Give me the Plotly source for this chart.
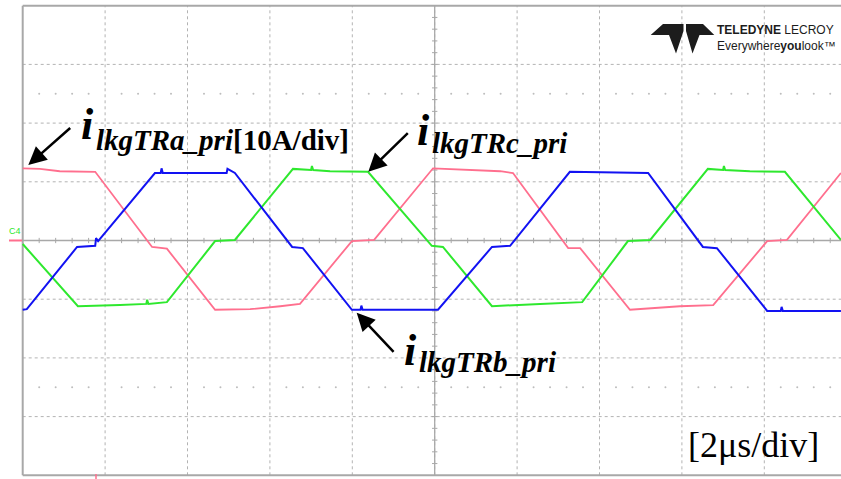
import plotly.graph_objects as go

# ---- scope capture: three primary leakage-inductor currents ----
# time in microseconds (2 us/div), current in amperes (10 A/div)
t_a = [0.0, 0.42, 0.90, 1.39, 1.76, 3.14, 3.50, 4.67, 5.52, 6.25, 6.73, 7.99, 8.53,
       9.96, 10.86, 11.59, 11.90, 13.24, 13.53, 14.74, 15.95, 16.76, 18.07, 18.55, 19.86]
i_a = [12.3, 12.2, 11.8, 11.7, 11.7, -1.1, -1.4, -11.8, -11.7, -11.2, -10.8, -0.1, 0.1,
       12.3, 12.0, 11.8, 11.5, -1.3, -1.3, -11.8, -11.2, -11.0, -0.1, 0.1, 11.5]

t_b = [0.0, 0.10, 1.32, 1.76, 1.78, 1.83, 3.21, 3.35, 3.37, 3.40, 4.31, 4.95, 4.97, 5.15,
       6.54, 6.80, 7.99, 8.20, 8.22, 8.25, 10.08, 11.39, 11.83, 13.28, 15.18, 16.51,
       16.85, 18.07, 18.40, 18.42, 18.45, 19.86]
i_b = [-11.8, -11.7, -1.1, -0.9, 0.4, -0.1, 11.5, 11.5, 12.3, 11.5, 11.5, 11.5, 12.2, 11.5,
       -1.1, -1.3, -11.8, -11.8, -11.1, -11.8, -11.8, -1.1, -0.9, 11.7, 11.5, -1.1,
       -1.3, -12.0, -12.0, -11.3, -12.0, -12.0]

t_c = [0.0, 1.34, 2.36, 3.00, 3.02, 3.05, 3.50, 4.67, 5.15, 6.56, 7.00, 7.02, 7.05, 7.46,
       8.38, 9.93, 10.20, 11.39, 12.56, 13.58, 14.69, 15.23, 16.63, 17.00, 17.02, 17.05,
       17.65, 18.50, 19.86]
i_c = [-0.6, -11.2, -11.0, -10.8, -10.1, -10.8, -10.5, -0.1, 0.1, 12.2, 12.0, 12.7, 12.0, 11.8,
       11.7, -0.9, -1.1, -11.2, -10.8, -10.5, -0.1, 0.1, 12.2, 12.0, 12.7, 12.0,
       11.8, 11.7, 0.1]

PINK = "#ff6f8e"
BLUE = "#1212f2"
GREEN = "#2ee82e"
GRID = "#b3b3b3"
FRAME = "#a8a8a8"

W, H = 841, 479
# display geometry: graticule origin and scale in screen pixels
X0, PX_PER_US = 22.7, 41.2
Y0, PX_PER_A = 240.5, 5.87


def tx(px):
    return (px - X0) / PX_PER_US


def iy(py):
    return (Y0 - py) / PX_PER_A


T_MIN, T_MAX = tx(0), tx(W)
I_MAX, I_MIN = iy(0), iy(H)

fig = go.Figure()

shapes = []
# dotted graticule
for k in range(1, 10):
    shapes.append(dict(type="line", xref="x", yref="y", x0=2 * k, x1=2 * k, y0=-40, y1=40,
                       line=dict(color=GRID, width=1, dash="dot"), layer="below"))
for v in (-30, -20, -10, 10, 20, 30):
    shapes.append(dict(type="line", xref="x", yref="y", x0=0, x1=20, y0=v, y1=v,
                       line=dict(color=GRID, width=1, dash="dot"), layer="below"))
# frame
for (x0, x1, y0, y1) in ((0, 0, -40, 40), (0, 20, 40, 40), (0, 20, -40, -40)):
    shapes.append(dict(type="line", xref="x", yref="y", x0=x0, x1=x1, y0=y0, y1=y1,
                       line=dict(color=FRAME, width=2), layer="below"))
# centre cross
shapes.append(dict(type="line", xref="x", yref="y", x0=0, x1=20, y0=0, y1=0,
                   line=dict(color=FRAME, width=1.3), layer="below"))
shapes.append(dict(type="line", xref="x", yref="y", x0=10, x1=10, y0=-40, y1=40,
                   line=dict(color=FRAME, width=1.3), layer="below"))
# channel ground marker and trigger marker
shapes.append(dict(type="line", xref="x", yref="y", x0=tx(9), x1=tx(22), y0=0, y1=0,
                   line=dict(color=PINK, width=2)))
shapes.append(dict(type="line", xref="x", yref="y", x0=tx(96), x1=tx(96), y0=iy(474), y1=iy(479),
                   line=dict(color=PINK, width=1.5)))


def path(points):
    pts = [f"{tx(x)},{iy(y)}" for x, y in points]
    return "M " + " L ".join(pts) + " Z"


# logo mark
logo_left = [(650.7, 35), (663, 24), (683.5, 24), (683.5, 31), (676, 53.5), (669, 35)]
logo_right = [(714.3, 35), (703, 24), (686, 24), (686, 31), (692.5, 53.5), (699.5, 35)]
for pts in (logo_left, logo_right):
    shapes.append(dict(type="path", xref="x", yref="y", path=path(pts),
                       fillcolor="#1c1c1c", line=dict(width=0)))

# minor tick marks on the centre cross
tick_x, tick_y = [], []
for k in range(1, 50):
    t = 0.4 * k
    tick_x += [t, t, None]
    tick_y += [-0.45, 0.45, None]
for k in range(-19, 20):
    v = 2 * k
    tick_x += [10 - 0.065, 10 + 0.065, None]
    tick_y += [v, v, None]
fig.add_trace(go.Scatter(x=tick_x, y=tick_y, mode="lines",
                         line=dict(color=FRAME, width=1), hoverinfo="skip", showlegend=False))

# sparse dot rows of the graticule
dot_x = [0.4 * k for k in range(1, 50) if k % 5]
fig.add_trace(go.Scatter(x=dot_x * 2, y=[25] * len(dot_x) + [-25] * len(dot_x), mode="markers",
                         marker=dict(color="#bdbdbd", size=2), hoverinfo="skip", showlegend=False))

fig.add_trace(go.Scatter(x=t_a, y=i_a, mode="lines", line=dict(color=PINK, width=1.8),
                         showlegend=False))
fig.add_trace(go.Scatter(x=t_c, y=i_c, mode="lines", line=dict(color=GREEN, width=2),
                         showlegend=False))
fig.add_trace(go.Scatter(x=t_b, y=i_b, mode="lines", line=dict(color=BLUE, width=2),
                         showlegend=False))

SERIF = "Liberation Serif, Times New Roman, serif"
NARROW = "Liberation Sans Narrow, Arial Narrow, Liberation Sans, sans-serif"
ann = []


def label(px, py_bottom, text, size, family=SERIF, color="black"):
    ann.append(dict(x=tx(px), y=iy(py_bottom), xref="x", yref="y", text=text, showarrow=False,
                    xanchor="left", yanchor="bottom", font=dict(family=family, size=size, color=color)))


def arrow(tail, tip):
    ann.append(dict(x=tx(tip[0]), y=iy(tip[1]), ax=tx(tail[0]), ay=iy(tail[1]),
                    xref="x", yref="y", axref="x", ayref="y", text="", showarrow=True,
                    arrowhead=2, arrowsize=1.45, arrowwidth=2.5, arrowcolor="black"))


# phase a label
label(79, 151, "<b><i>i</i></b>", 44)
label(94, 158, "<b><i>lkgTRa_pri</i>[10A/div]</b>", 29)
arrow((71.7, 126.7), (28.3, 165))
# phase c label
label(415, 157, "<b><i>i</i></b>", 44)
label(430, 161, "<b><i>lkgTRc_pri</i></b>", 29)
arrow((409.3, 131.7), (368.3, 171.7))
# phase b label
label(402, 377, "<b><i>i</i></b>", 44)
label(417, 380, "<b><i>lkgTRb_pri</i></b>", 29)
arrow((395, 353.3), (356.7, 312.7))
# time base
label(686, 467, "[2\u03bcs/div]", 36)
# channel tag
label(7, 238, "C4", 9, family="Liberation Sans, sans-serif", color=GREEN)
# logo lettering (two lines in one block)
ann.append(dict(x=tx(715), y=iy(21), xref="x", yref="y", showarrow=False,
                xanchor="left", yanchor="top", align="left",
                text="<b>TELEDYNE</b> LECROY<br>Everywhere<b>you</b>look\u2122",
                font=dict(family=NARROW, size=12, color="#1c1c1c")))

fig.update_layout(
    width=W, height=H,
    margin=dict(l=0, r=0, t=0, b=0),
    paper_bgcolor="white", plot_bgcolor="white",
    xaxis=dict(range=[T_MIN, T_MAX], showgrid=False, zeroline=False, showticklabels=False,
               fixedrange=True),
    yaxis=dict(range=[I_MIN, I_MAX], showgrid=False, zeroline=False, showticklabels=False,
               fixedrange=True),
    shapes=shapes,
    annotations=ann,
)

fig.write_html("out.html")
